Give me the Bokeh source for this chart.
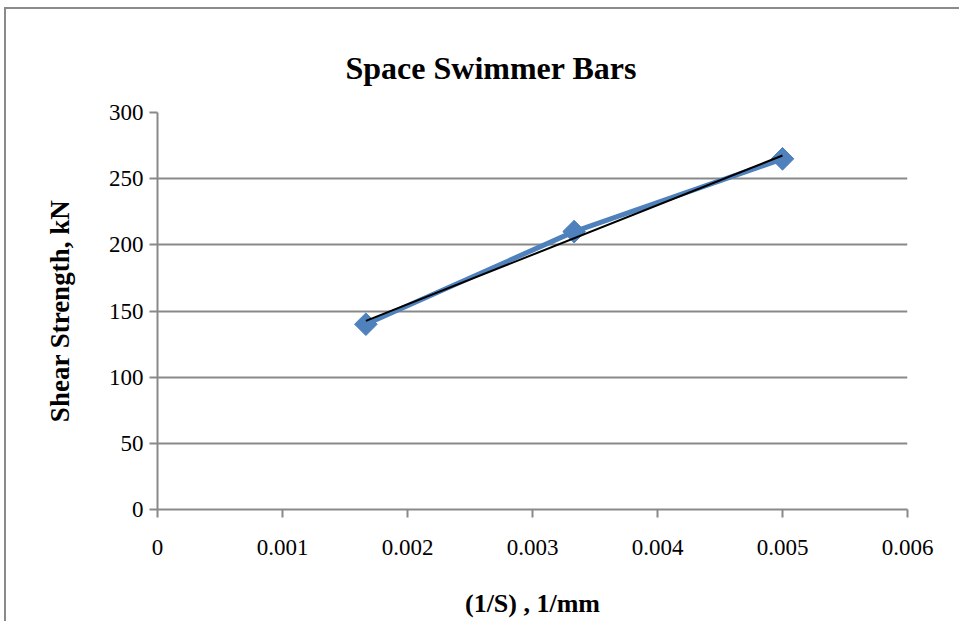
from bokeh.plotting import figure
from bokeh.models import Range1d, FixedTicker, ColumnDataSource
from bokeh.embed import file_html
from bokeh.resources import INLINE
import numpy as np

# data
inv_spacing = [0.001667, 0.003333, 0.005]   # (1/S), 1/mm
shear_strength = [140, 210, 265]             # kN
x_ticks = [0, 0.001, 0.002, 0.003, 0.004, 0.005, 0.006]
x_tick_labels = ["0", "0.001", "0.002", "0.003", "0.004", "0.005", "0.006"]
y_ticks = [0, 50, 100, 150, 200, 250, 300]

title_text = "Space Swimmer Bars"
x_label = "(1/S) , 1/mm"
y_label = "Shear Strength, kN"

FONT = "Liberation Serif"
GRID = "#898989"
BLUE = "#4F81BD"

W, H = 955, 614
p = figure(width=W, height=H, output_backend="svg", toolbar_location=None,
           x_range=Range1d(0, 0.006), y_range=Range1d(0, 300),
           min_border_left=151, min_border_right=54,
           min_border_top=103, min_border_bottom=114)
p.styles = {"border-left": "2px solid #8a8a8a", "border-top": "2px solid #8a8a8a",
            "margin-left": "4px", "margin-top": "7px"}
p.outline_line_color = None
p.background_fill_color = "white"
p.border_fill_color = "white"

p.title.text = title_text
p.title.text_font = FONT
p.title.text_font_size = "32px"
p.title.text_font_style = "bold"
p.title.text_color = "black"
p.title.align = "left"
p.title.offset = 188
p.title.vertical_align = "top"
p.title.standoff = 49

# axes
xa = p.xaxis[0]
xa.ticker = FixedTicker(ticks=x_ticks)
xa.major_label_overrides = {t: l for t, l in zip(x_ticks, x_tick_labels)}
xa.axis_label = x_label
ya = p.yaxis[0]
ya.ticker = FixedTicker(ticks=y_ticks)
ya.axis_label = y_label
for ax in (xa, ya):
    ax.axis_line_color = GRID
    ax.axis_line_width = 2
    ax.major_tick_line_color = GRID
    ax.major_tick_line_width = 2
    ax.major_tick_in = 0
    ax.major_tick_out = 8
    ax.minor_tick_line_color = None
    ax.major_label_text_font = FONT
    ax.major_label_text_font_size = "23px"
    ax.major_label_text_color = "black"
    ax.axis_label_text_font = FONT
    ax.axis_label_text_font_size = "26px"
    ax.axis_label_text_font_style = "bold"
    ax.axis_label_text_color = "black"
xa.major_label_standoff = 22
xa.axis_label_standoff = 31
ya.major_label_standoff = 6
ya.axis_label_standoff = 31
ya.axis_label_text_font_size = "27px"

p.xgrid.grid_line_color = None
p.ygrid.grid_line_color = GRID
p.ygrid.grid_line_width = 2

src = ColumnDataSource(dict(x=inv_spacing, y=shear_strength))
p.line("x", "y", source=src, line_color=BLUE, line_width=5)
p.scatter("x", "y", source=src, marker="square", angle=np.pi / 4, size=16,
          fill_color=BLUE, line_color=BLUE)

# linear trendline (least squares on the data)
xs = np.array(inv_spacing)
ys = np.array(shear_strength)
slope, intercept = np.polyfit(xs, ys, 1)
tx = [xs.min(), xs.max()]
ty = [slope * v + intercept for v in tx]
p.line(tx, ty, line_color="black", line_width=2)

open("out.html", "w").write(file_html(p, INLINE))
